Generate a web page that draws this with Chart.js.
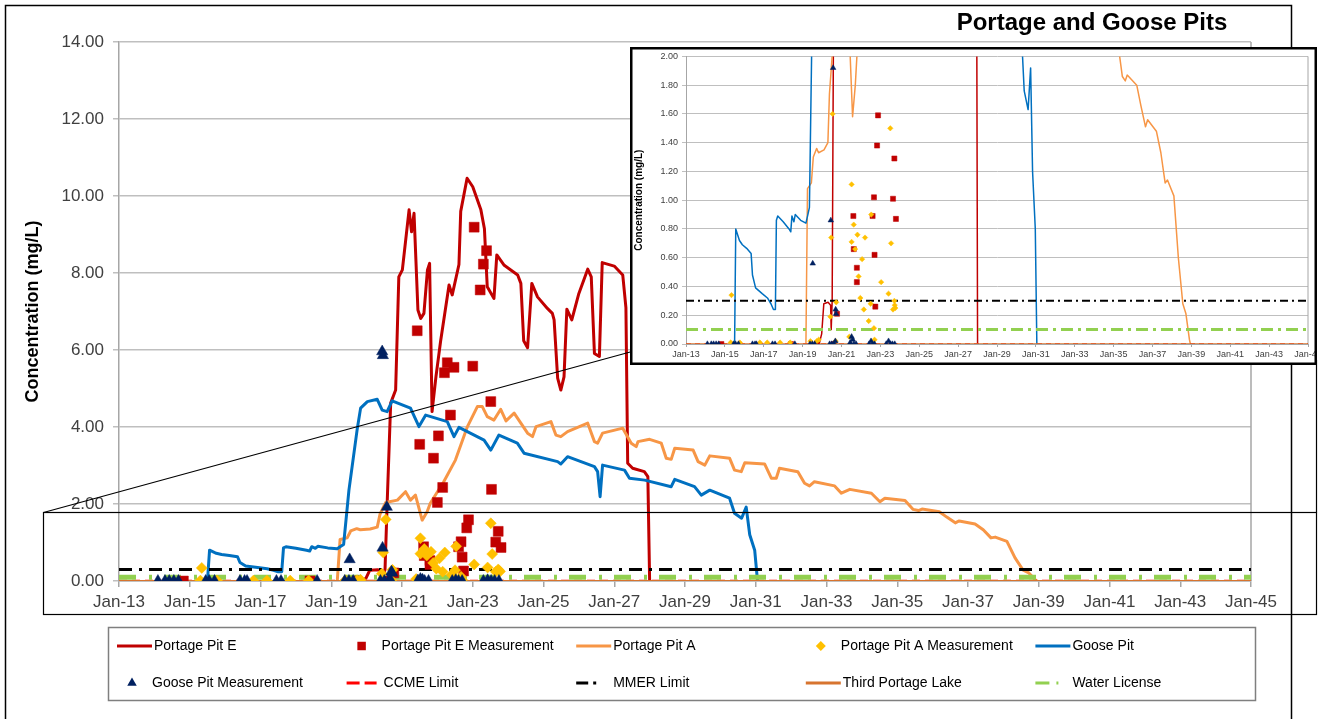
<!DOCTYPE html>
<html>
<head>
<meta charset="utf-8">
<script src="https://cdn.jsdelivr.net/npm/chart.js@4.4.1/dist/chart.umd.min.js"></script>
<style>
  body { margin: 0; background: #fff; }
  #wrap { position: relative; width: 1326px; height: 719px; overflow: hidden; }
  #mainChart { position: absolute; left: 0; top: 0; }
  #insetChart { position: absolute; left: 630px; top: 47px; }
</style>
</head>
<body>
<div id="wrap">
  <canvas id="mainChart" width="1326" height="719"></canvas>
  <canvas id="insetChart" width="687" height="318"></canvas>
</div>
<script>
// values: [year, mg/L]
const portagePitE = [[2019.85,0],[2019.98,0.07],[2020.09,0.28],[2020.31,0.29],[2020.44,0.27],[2020.47,0.10],[2020.52,0.30],[2020.58,2.0],[2020.68,4.62],[2020.82,4.96],[2020.91,7.90],[2021.01,8.08],[2021.2,9.64],[2021.27,9.07],[2021.34,9.55],[2021.45,7.04],[2021.53,6.82],[2021.62,6.95],[2021.72,8.08],[2021.78,8.25],[2021.85,4.40],[2021.96,5.31],[2022.09,6.22],[2022.33,7.69],[2022.42,7.43],[2022.61,8.22],[2022.66,9.60],[2022.84,10.46],[2023.0,10.24],[2023.23,9.64],[2023.33,9.15],[2023.41,7.64],[2023.6,7.34],[2023.68,8.47],[2023.89,8.20],[2024.27,7.95],[2024.36,7.73],[2024.44,6.24],[2024.55,6.06],[2024.67,7.73],[2024.83,7.38],[2025.11,7.08],[2025.25,6.95],[2025.3,6.78],[2025.4,5.27],[2025.49,4.96],[2025.58,5.30],[2025.66,7.06],[2025.8,6.78],[2026.0,7.47],[2026.25,8.10],[2026.35,7.90],[2026.44,5.91],[2026.58,5.83],[2026.66,8.27],[2027.0,8.18],[2027.24,7.95],[2027.33,7.10],[2027.38,3.06],[2027.52,2.93],[2027.85,2.84],[2027.95,2.71],[2028.0,0]];

const portagePitA = [[2019.17,0],[2019.25,1.08],[2019.45,1.12],[2019.55,1.30],[2019.72,1.36],[2019.82,1.33],[2020.1,1.35],[2020.3,1.40],[2020.38,1.74],[2020.54,2.04],[2020.87,2.10],[2021.1,2.32],[2021.24,2.10],[2021.38,2.23],[2021.57,1.58],[2021.71,1.80],[2021.8,2.02],[2022.18,2.58],[2022.51,3.14],[2022.85,4.01],[2023.13,4.53],[2023.27,4.53],[2023.41,4.27],[2023.6,4.18],[2023.79,4.46],[2023.94,4.16],[2024.17,4.36],[2024.55,3.84],[2024.69,3.75],[2024.79,4.01],[2025.21,4.14],[2025.35,3.79],[2025.49,3.75],[2025.68,3.88],[2026.25,4.10],[2026.44,3.62],[2026.53,3.58],[2026.67,3.84],[2027.24,3.97],[2027.48,3.58],[2027.62,3.49],[2027.67,3.62],[2028.0,3.68],[2028.33,3.58],[2028.47,3.19],[2028.61,3.16],[2028.71,3.45],[2029.23,3.40],[2029.37,3.10],[2029.56,3.01],[2029.7,3.25],[2030.26,3.19],[2030.4,2.88],[2030.59,2.84],[2030.69,3.07],[2031.25,3.04],[2031.44,2.67],[2031.58,2.67],[2031.67,2.93],[2032.19,2.84],[2032.38,2.54],[2032.52,2.47],[2032.66,2.58],[2033.23,2.47],[2033.42,2.28],[2033.66,2.38],[2034.27,2.28],[2034.51,2.06],[2034.65,2.15],[2035.22,2.09],[2035.45,1.86],[2035.6,1.83],[2035.7,1.87],[2036.19,1.80],[2036.4,1.66],[2036.64,1.51],[2036.75,1.56],[2037.2,1.48],[2037.43,1.33],[2037.65,1.12],[2037.77,1.14],[2038.1,1.03],[2038.33,0.60],[2038.56,0.28],[2038.72,0.21],[2038.9,0.03],[2038.95,0]];

const goosePit = [[2015.5,0],[2015.56,0.80],[2015.75,0.72],[2015.9,0.69],[2016.12,0.665],[2016.35,0.63],[2016.42,0.48],[2016.58,0.39],[2016.92,0.35],[2017.19,0.32],[2017.37,0.28],[2017.5,0.24],[2017.6,0.24],[2017.65,0.86],[2017.72,0.89],[2018.0,0.85],[2018.3,0.80],[2018.39,0.78],[2018.45,0.89],[2018.55,0.85],[2018.62,0.90],[2018.9,0.86],[2019.17,0.84],[2019.27,0.90],[2019.35,0.95],[2019.5,2.36],[2019.73,3.92],[2019.83,4.49],[2020.02,4.66],[2020.3,4.72],[2020.44,4.44],[2020.58,4.40],[2020.72,4.68],[2021.24,4.49],[2021.48,4.01],[2021.67,4.31],[2022.28,4.14],[2022.47,3.75],[2022.61,3.99],[2023.32,3.66],[2023.51,3.40],[2023.74,3.79],[2024.26,3.58],[2024.45,3.32],[2025.4,3.10],[2025.49,3.04],[2025.68,3.23],[2026.44,2.97],[2026.53,2.84],[2026.6,2.19],[2026.67,3.01],[2027.29,2.88],[2027.43,2.67],[2027.86,2.62],[2028.61,2.45],[2028.71,2.64],[2029.27,2.45],[2029.46,2.23],[2029.7,2.36],[2030.26,2.15],[2030.4,1.76],[2030.6,1.63],[2030.73,1.92],[2030.83,1.20],[2030.97,0.80],[2031.05,0]];

const pitEMeasured = [[2014.82,0],[2018.4,0],[2019.73,0],[2020.6,0],[2020.77,0.21],[2021.43,6.50],[2021.5,3.55],[2021.61,0.89],[2021.63,0.66],[2021.79,0.53],[2021.79,0.43],[2021.89,3.19],[2022.0,2.04],[2022.03,3.77],[2022.15,2.43],[2022.2,5.41],[2022.28,5.67],[2022.37,4.31],[2022.47,5.55],[2022.6,0.89],[2022.67,1.02],[2022.7,0.62],[2022.74,0.26],[2022.83,1.38],[2022.88,1.59],[2023.0,5.58],[2023.04,9.19],[2023.21,7.56],[2023.3,8.23],[2023.39,8.58],[2023.51,4.66],[2023.53,2.38],[2023.65,1.01],[2023.72,1.29],[2023.8,0.87]];

const pitAMeasured = [[2015.34,0.34],[2015.3,0.01],[2015.77,0.01],[2016.8,0.01],[2017.18,0.01],[2017.84,0.01],[2018.36,0.01],[2019.4,0.02],[2019.73,0.02],[2019.83,0.03],[2020.43,0.19],[2020.47,0.74],[2020.54,1.60],[2020.73,0.29],[2020.7,0.02],[2021.4,0.05],[2021.52,1.11],[2021.63,0.83],[2021.52,0.71],[2021.7,0.66],[2021.82,0.76],[2021.88,0.47],[2021.97,0.32],[2022.06,0.59],[2022.15,0.24],[2022.21,0.74],[2022.4,0.16],[2022.53,0.90],[2022.5,0.28],[2022.67,0.11],[2022.7,0.03],[2023.04,0.43],[2023.42,0.35],[2023.51,1.50],[2023.55,0.70],[2023.65,0.24],[2023.72,0.30],[2023.74,0.27],[2023.77,0.25]];

const gooseMeasured = [[2014.1,0],[2014.3,0],[2014.42,0],[2014.55,0],[2014.68,0],[2015.45,0],[2015.55,0],[2015.7,0],[2016.42,0],[2016.55,0],[2016.62,0],[2017.45,0],[2017.58,0],[2018.6,0],[2019.38,0],[2019.5,0],[2019.52,0.56],[2019.62,0],[2020.39,0],[2020.45,0.86],[2020.44,5.96],[2020.46,5.86],[2020.5,0],[2020.57,1.92],[2020.62,0],[2020.68,0.02],[2020.7,0.24],[2020.72,0.21],[2021.45,0.01],[2021.52,0.05],[2021.58,0.03],[2021.64,0],[2021.75,0],[2022.42,0],[2022.52,0.02],[2022.6,0],[2022.7,0],[2023.3,0],[2023.42,0.02],[2023.52,0],[2023.62,0],[2023.74,0]];

const ccmeLimit = [[2013,0],[2045,0]];
const mmerLimit = [[2013,0.3],[2045,0.3]];
const thirdPortageLake = [[2013,0],[2045,0]];
const waterLicense = [[2013,0.1],[2045,0.1]];

const xTickLabels = ['Jan-13','Jan-15','Jan-17','Jan-19','Jan-21','Jan-23','Jan-25','Jan-27','Jan-29','Jan-31','Jan-33','Jan-35','Jan-37','Jan-39','Jan-41','Jan-43','Jan-45'];

const FONT = "'Liberation Sans', Arial, sans-serif";

function pts(pairs) { return pairs.map(([x, y]) => ({ x, y })); }

function line(label, pairs, color, width) {
  return { label, data: pts(pairs), borderColor: color, backgroundColor: color, borderWidth: width,
    pointRadius: 0, pointHoverRadius: 0, fill: false, tension: 0, borderJoinStyle: 'round' };
}
function marks(label, pairs, color, style, r) {
  return { label, data: pts(pairs), showLine: false, pointStyle: style, pointRadius: r, pointHoverRadius: r,
    pointBackgroundColor: color, pointBorderColor: color, pointBorderWidth: 0.5, borderColor: color, backgroundColor: color };
}

function buildDatasets(big) {
  const lw = big ? 3 : 1.5;
  const sets = [
    line('Portage Pit E', portagePitE, '#C00000', lw),
    marks('Portage Pit E Measurement', pitEMeasured, '#C00000', 'rect', big ? 7 : 3.6),
    line('Portage Pit A', portagePitA, '#F79646', lw),
    marks('Portage Pit A Measurement', pitAMeasured, '#FFC000', 'rectRot', big ? 5.5 : 2.7),
    line('Goose Pit', goosePit, '#0070C0', lw),
    marks('Goose Pit Measurement', gooseMeasured, '#002060', 'triangle', big ? 6.5 : 3.2),
    Object.assign(line('CCME Limit', ccmeLimit, '#FF0000', big ? 2.5 : 1.5),
      { borderDash: big ? [8, 5] : [5, 4], legendDash: [13, 5], legendLen: 30 }),
    Object.assign(line('MMER Limit', mmerLimit, '#000000', big ? 3 : 2),
      { borderDash: big ? [13, 7, 3, 7] : [8, 4, 2, 4], legendDash: [12, 5, 3, 100], legendLen: 21 }),
    line('Third Portage Lake', thirdPortageLake, '#D7742F', big ? 2 : 1.5),
    Object.assign(line('Water License', waterLicense, '#92D050', big ? 5 : 3),
      { borderDash: big ? [17, 13, 3, 12] : [12, 5, 3, 5], legendDash: [14, 7, 2, 100], legendLen: 24 })
  ];
  // later series drawn on top, measurement markers above every line
  return sets.map((d, i) => Object.assign(d, { order: d.showLine === false ? -20 - i : -i }));
}

const whiteBg = {
  id: 'whiteBg',
  beforeDraw(chart) {
    const c = chart.ctx;
    c.save(); c.fillStyle = '#fff'; c.fillRect(0, 0, chart.width, chart.height); c.restore();
  },
  beforeDatasetsDraw(chart) {
    const { ctx, chartArea: a } = chart;
    ctx.save();
    ctx.strokeStyle = '#A6A6A6'; ctx.lineWidth = chart.canvas.id === 'mainChart' ? 1.5 : 1;
    ctx.beginPath(); ctx.moveTo(a.right, a.top); ctx.lineTo(a.right, a.bottom); ctx.stroke();
    ctx.restore();
  }
};

const legendSizes = { rect: 6, rectRot: 5, triangle: 5.5 };

const decorations = {
  id: 'decorations',
  afterDraw(chart) {
    const ctx = chart.ctx;
    ctx.save();
    // outer frame
    ctx.strokeStyle = '#000'; ctx.lineWidth = 1.5;
    ctx.beginPath(); ctx.moveTo(5.5, 719); ctx.lineTo(5.5, 5.5); ctx.lineTo(1291.5, 5.5); ctx.lineTo(1291.5, 719); ctx.stroke();
    // zoom box + connectors
    ctx.lineWidth = 1.2;
    ctx.strokeRect(43.5, 512.5, 1273, 102);
    ctx.beginPath();
    ctx.moveTo(43.5, 512.5); ctx.lineTo(632, 351.5);
    ctx.moveTo(1316.5, 512.5); ctx.lineTo(1316.5, 360);
    ctx.stroke();
    // title
    ctx.fillStyle = '#000'; ctx.font = 'bold 24px ' + FONT; ctx.textAlign = 'center'; ctx.textBaseline = 'middle';
    ctx.fillText('Portage and Goose Pits', 1092, 23);
    // legend
    ctx.strokeStyle = '#7F7F7F'; ctx.lineWidth = 1.5;
    ctx.strokeRect(108.5, 627.5, 1147, 73);
    ctx.font = '14px ' + FONT; ctx.textAlign = 'left';
    chart.data.datasets.forEach((ds, i) => {
      const x0 = 117 + (i % 5) * 229.6;
      const y = 646 + Math.floor(i / 5) * 37;
      ctx.fillStyle = ds.borderColor; ctx.strokeStyle = ds.borderColor;
      let tx;
      if (ds.showLine === false) {
        Chart.helpers.drawPoint(ctx, { pointStyle: ds.pointStyle, radius: legendSizes[ds.pointStyle], rotation: 0, borderWidth: 0 }, x0 + 15, y);
        tx = x0 + 35;
      } else {
        ctx.lineWidth = 3; ctx.setLineDash(ds.legendDash || []);
        ctx.beginPath(); ctx.moveTo(x0, y); ctx.lineTo(x0 + (ds.legendLen || 35), y); ctx.stroke();
        ctx.setLineDash([]);
        tx = x0 + 37;
      }
      ctx.fillStyle = '#000';
      ctx.fillText(ds.label, tx, y);
    });
    ctx.restore();
  }
};

const insetBorder = {
  id: 'insetBorder',
  afterDraw(chart) {
    const c = chart.ctx;
    c.save(); c.strokeStyle = '#000'; c.lineWidth = 2.5;
    c.strokeRect(1.25, 1.25, chart.width - 2.5, chart.height - 2.5); c.restore();
  }
};

function axes(big) {
  const tickFont = { family: FONT, size: big ? 17 : 9 };
  return {
    x: {
      type: 'linear', min: 2013, max: 2045,
      afterFit(s) { s.height = big ? 40 : 18; s.paddingLeft = 0; s.paddingRight = 0; },
      ticks: { stepSize: 2, autoSkip: false, maxRotation: 0, padding: big ? 5 : 2.5, color: '#404040', font: tickFont,
        callback: (v, i) => xTickLabels[i] },
      grid: { drawOnChartArea: false, tickLength: big ? 6 : 3, color: '#A6A6A6', lineWidth: big ? 1.5 : 1 },
      border: { color: '#A6A6A6', width: big ? 1.5 : 1 }
    },
    y: {
      min: 0, max: big ? 14 : 2,
      afterFit(s) { s.width = big ? 119 : 56; },
      ticks: { stepSize: big ? 2 : 0.2, padding: big ? 9 : 4, color: '#404040', font: tickFont, callback: v => v.toFixed(2) },
      grid: { color: '#BFBFBF', lineWidth: big ? 1.5 : 1, tickLength: big ? 6 : 4 },
      border: { color: '#A6A6A6', width: big ? 1.5 : 1 },
      title: { display: true, text: 'Concentration (mg/L)', color: '#000',
        font: { family: FONT, size: big ? 18 : 10, weight: 'bold' }, padding: { top: big ? 22 : 3, bottom: 0 } }
    }
  };
}

new Chart(document.getElementById('mainChart'), {
  type: 'line',
  data: { datasets: buildDatasets(true) },
  options: {
    responsive: false, animation: false, events: [],
    layout: { padding: { left: 0, right: 75, top: 42, bottom: 98 } },
    plugins: { legend: { display: false }, tooltip: { enabled: false } },
    scales: axes(true)
  },
  plugins: [whiteBg, decorations]
});

new Chart(document.getElementById('insetChart'), {
  type: 'line',
  data: { datasets: buildDatasets(false) },
  options: {
    responsive: false, animation: false, events: [],
    layout: { padding: { left: 0, right: 9, top: 5, bottom: 3 } },
    plugins: { legend: { display: false }, tooltip: { enabled: false } },
    scales: axes(false)
  },
  plugins: [whiteBg, insetBorder]
});
</script>
</body>
</html>
